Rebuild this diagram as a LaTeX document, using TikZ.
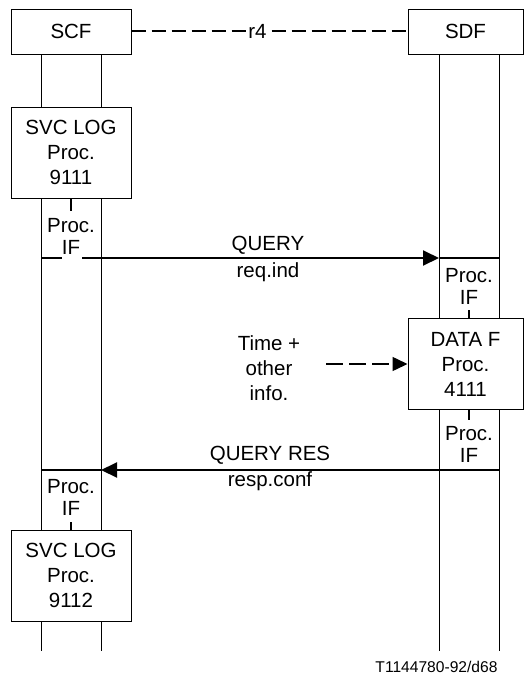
\documentclass[tikz,border=0pt]{standalone}
\usepackage{fontspec}
\setmainfont{Liberation Sans}
\usetikzlibrary{arrows.meta}
\begin{document}
\begin{tikzpicture}[x=1pt,y=-1pt,
  every node/.style={font=\fontsize{20.5}{25}\selectfont, inner sep=0pt},
  entity/.style={draw, line width=1pt, fill=white, minimum height=45pt, align=center},
  procbox/.style={draw, line width=1pt, fill=white, minimum height=91pt, align=center, font=\fontsize{20.5}{25}\selectfont},
  iflabel/.style={align=center, font=\fontsize{20.5}{22}\selectfont},
  life/.style={line width=1pt},
  msg/.style={line width=2pt},
  tip/.style={-{Triangle[length=16pt,width=15pt]}},
  tick/.style={line width=1.5pt}]
\useasboundingbox (0,0) rectangle (526,678);

% lifelines
\coordinate (l1t) at (41,54);  \coordinate (l1b) at (41,651);
\coordinate (l2t) at (101,54); \coordinate (l2b) at (101,651);
\coordinate (r1t) at (439,54); \coordinate (r1b) at (439,651);
\coordinate (r2t) at (499,54); \coordinate (r2b) at (499,651);
\draw[life] (l1t) -- (l1b);
\draw[life] (l2t) -- (l2b);
\draw[life] (r1t) -- (r1b);
\draw[life] (r2t) -- (r2b);

% entity boxes
\node[entity, minimum width=120pt] (scf) at (71,31.5) {SCF};
\node[entity, minimum width=115pt] (sdf) at (465.5,31.5) {SDF};
\draw[line width=1.6pt, dash pattern=on 14pt off 6pt] (scf.east |- 0,31) -- (sdf.west |- 0,31);
\node[fill=white, inner xsep=0.3pt, inner ysep=1pt] (r4) at (257.5,31) {r4};

% SCF procedure boxes
\node[procbox, minimum width=120pt] (svc1) at (71,152.5) {SVC LOG\\Proc.\\9111};
\node[iflabel] (if1) at (71,236) {Proc.\\IF};
\draw[tick] (svc1.south) -- ++(0,12);

\node[procbox, minimum width=120pt] (svc2) at (71,575.5) {SVC LOG\\Proc.\\9112};
\node[iflabel] (if4) at (71,497) {Proc.\\IF};
\draw[tick] (svc2.north) -- ++(0,-8);

% SDF procedure box
\node[procbox, minimum width=115pt] (dataf) at (465.5,364) {DATA F\\Proc.\\4111};
\node[iflabel] (if2) at (469,286) {Proc.\\IF};
\node[iflabel] (if3) at (469,444.5) {Proc.\\IF};
\draw[tick] (dataf.north -| 469,0) -- ++(0,-8);
\draw[tick] (dataf.south -| 469,0) -- ++(0,10);

% QUERY message
\coordinate (qs) at (41,258);
\coordinate (qg1) at (62,258);
\coordinate (qg2) at (82,258);
\coordinate (qt) at (439,258);
\coordinate (qe) at (499,258);
\draw[msg] (qs) -- (qg1);
\draw[msg, tip] (qg2) -- (qt);
\draw[msg] (qt) -- (qe);
\node (query) at (268,245) {QUERY};
\node (reqind) at (268,272) {req.ind};

% QUERY RES message
\coordinate (rs) at (499,470);
\coordinate (rt) at (101,470);
\coordinate (re) at (41,470);
\draw[msg, tip] (rs) -- (rt);
\draw[msg] (rt) -- (re);
\node (queryres) at (270,455) {QUERY RES};
\node (respconf) at (270,481) {resp.conf};

% Time + other info
\node[align=center, font=\fontsize{20.5}{25}\selectfont] (time) at (269,368) {Time +\\other\\info.};
\coordinate (ds) at (326,364);
\draw[line width=1.5pt, dash pattern=on 17pt off 6pt, -{Triangle[length=15pt,width=14pt]}] (ds) -- (dataf.west |- ds);

% footer
\node[font=\fontsize{15.6}{18}\selectfont] (footer) at (436.5,667) {T1144780-92/d68};
\end{tikzpicture}
\end{document}
